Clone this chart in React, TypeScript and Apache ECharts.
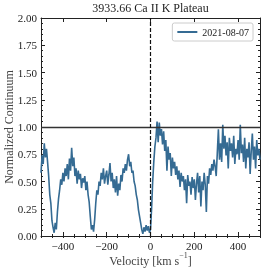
import React, { useEffect, useRef } from "react";
import * as echarts from "echarts";

const VEL_START = -500;
const VEL_STEP = 5;
const flux = [
  0.58, 0.74, 0.66, 0.85, 0.72, 0.80, 0.68, 0.55, 0.38, 0.30,
  0.14, 0.08, 0.03, 0.12, 0.06, 0.22, 0.34, 0.42, 0.52, 0.47,
  0.58, 0.50, 0.62, 0.55, 0.66, 0.52, 0.71, 0.60, 0.81, 0.64,
  0.72, 0.55, 0.62, 0.48, 0.60, 0.52, 0.57, 0.44, 0.53, 0.49,
  0.55, 0.42, 0.50, 0.38, 0.31, 0.18, 0.06, 0.10, 0.04, 0.15,
  0.30, 0.42, 0.38, 0.50, 0.46, 0.58, 0.52, 0.62, 0.48, 0.55,
  0.60, 0.47, 0.56, 0.67, 0.50, 0.58, 0.44, 0.52, 0.40, 0.55,
  0.37, 0.48, 0.42, 0.56, 0.50, 0.62, 0.58, 0.66, 0.60, 0.70,
  0.75, 0.64, 0.68, 0.58, 0.60, 0.50, 0.46, 0.38, 0.33, 0.24,
  0.18, 0.12, 0.06, 0.02, 0.08, 0.04, 0.10, 0.05, 0.09, 0.03,
  0.06, 0.25, 0.50, 0.68, 0.82, 0.90, 1.05, 0.86, 1.04, 0.92,
  0.98, 0.84, 0.96, 0.78, 0.88, 0.60, 0.82, 0.70, 0.76, 0.55,
  0.72, 0.62, 0.68, 0.56, 0.64, 0.52, 0.60, 0.45, 0.58, 0.50,
  0.55, 0.42, 0.52, 0.30, 0.56, 0.46, 0.50, 0.38, 0.54, 0.44,
  0.52, 0.33, 0.48, 0.58, 0.40, 0.55, 0.27, 0.50, 0.42, 0.58,
  0.47, 0.22, 0.55, 0.48, 0.62, 0.56, 0.66, 0.60, 0.70, 0.64,
  0.55, 0.76, 0.98, 0.70, 0.85, 0.68, 1.02, 0.80, 0.92, 0.74,
  0.86, 0.62, 0.90, 0.78, 0.85, 0.72, 0.92, 0.66, 0.80, 0.75,
  0.88, 0.70, 1.02, 0.76, 0.84, 0.68, 0.90, 0.62, 0.80, 0.72,
  0.86, 0.57, 0.78, 0.94, 0.70, 0.82, 0.62, 0.88, 0.74, 0.80,
  0.70,
];
const xMajorTicks = [-400, -200, 0, 200, 400];
const xMinorTicks = [-500, -450, -400, -350, -300, -250, -200, -150, -100, -50, 0, 50, 100, 150, 200, 250, 300, 350, 400, 450, 500];
const legendLabel = "2021-08-07";
const titleText = "3933.66 Ca II K Plateau";
const yAxisTitle = "Normalized Continuum";
const xAxisTitleMain = "Velocity [km s";
const xAxisTitleSup = "\u22121";

const FONT = "Liberation Serif";
const AX = "#222";

export default function App() {
  const ref = useRef<HTMLDivElement>(null);
  useEffect(() => {
    const chart = echarts.init(ref.current!, undefined, { renderer: "svg" });
    const data = flux.map((f, i) => [VEL_START + i * VEL_STEP, f]);
    const baseX = {
      type: "value" as const,
      min: -500,
      max: 500,
      gridIndex: 0,
      splitLine: { show: false },
      axisLine: { show: true, onZero: false, lineStyle: { color: AX, width: 1 } },
    };
    const baseY = {
      type: "value" as const,
      min: 0,
      max: 2,
      interval: 0.25,
      splitLine: { show: false },
      axisLine: { show: true, onZero: false, lineStyle: { color: AX, width: 1 } },
      axisTick: { show: true, inside: true, length: 4, lineStyle: { color: AX } },
      minorTick: { show: true, splitNumber: 5, length: 2, lineStyle: { color: AX } },
    };
    chart.setOption({
      animation: false,
      graphic: [
        {
          type: "text",
          x: 150.5,
          y: 2,
          style: {
            text: titleText,
            fontFamily: FONT,
            fontSize: 12,
            fill: "#222",
            textAlign: "center",
            textVerticalAlign: "top",
          },
        },
        {
          type: "text",
          x: 9,
          y: 127,
          rotation: Math.PI / 2,
          style: {
            text: yAxisTitle,
            fontFamily: FONT,
            fontSize: 12,
            fill: "#444",
            textAlign: "center",
            textVerticalAlign: "middle",
          },
        },
        {
          type: "text",
          x: 150.5,
          y: 259,
          style: {
            text: "{n|" + xAxisTitleMain + "}{s|" + xAxisTitleSup + "}{n|]}",
            textAlign: "center",
            textVerticalAlign: "middle",
            rich: {
              n: { fontFamily: FONT, fontSize: 12, fill: "#444", lineHeight: 16, verticalAlign: "bottom" },
              s: { fontFamily: FONT, fontSize: 8, fill: "#444", lineHeight: 16, verticalAlign: "top" },
            },
          },
        },
      ],
      legend: {
        data: [legendLabel],
        right: 13,
        top: 23,
        itemWidth: 20,
        itemHeight: 2,
        itemGap: 5,
        padding: [4, 4, 4, 5],
        borderColor: "#cccccc",
        borderWidth: 1,
        borderRadius: 2,
        backgroundColor: "#fff",
        textStyle: { fontFamily: FONT, fontSize: 10, color: "#222" },
        icon: "rect",
      },
      grid: { left: 41, right: 6, top: 18, bottom: 33, outerBoundsMode: "none", containLabel: false },
      xAxis: [
        {
          ...baseX,
          position: "bottom",
          axisTick: { show: true, inside: true, length: 4, customValues: xMajorTicks, lineStyle: { color: AX } },
          axisLabel: {
            show: true,
            customValues: xMajorTicks,
            fontFamily: FONT,
            fontSize: 11,
            color: "#222",
            margin: 4,
            formatter: (v: number) => (v < 0 ? "\u2212" + Math.abs(v) : String(v)),
          },
        },
        {
          ...baseX,
          position: "bottom",
          axisLine: { show: false },
          axisTick: { show: true, inside: true, length: 2, customValues: xMinorTicks, lineStyle: { color: AX } },
          axisLabel: { show: false },
        },
        {
          ...baseX,
          position: "top",
          axisTick: { show: true, inside: true, length: 4, customValues: xMajorTicks, lineStyle: { color: AX } },
          axisLabel: { show: false },
        },
        {
          ...baseX,
          position: "top",
          axisLine: { show: false },
          axisTick: { show: true, inside: true, length: 2, customValues: xMinorTicks, lineStyle: { color: AX } },
          axisLabel: { show: false },
        },
      ],
      yAxis: [
        {
          ...baseY,
          position: "left",
          axisLabel: {
            fontFamily: FONT,
            fontSize: 11,
            color: "#222",
            margin: 4,
            formatter: (v: number) => v.toFixed(2),
          },
        },
        {
          ...baseY,
          position: "right",
          axisLabel: { show: false },
        },
      ],
      series: [
        {
          name: legendLabel,
          type: "line",
          data,
          xAxisIndex: 0,
          yAxisIndex: 0,
          showSymbol: false,
          symbol: "none",
          lineStyle: { color: "#356b93", width: 1.6 },
          itemStyle: { color: "#356b93" },
          markLine: {
            silent: true,
            symbol: "none",
            label: { show: false },
            data: [
              { yAxis: 1, lineStyle: { color: "#333", width: 1.4, type: "solid" } },
              { xAxis: 0, lineStyle: { color: "#111", width: 1.2, type: [4, 2] } },
            ],
          },
        },
      ],
    });
    return () => chart.dispose();
  }, []);
  return <div ref={ref} style={{ position: "fixed", left: 0, top: 0, width: 266, height: 269 }} />;
}
